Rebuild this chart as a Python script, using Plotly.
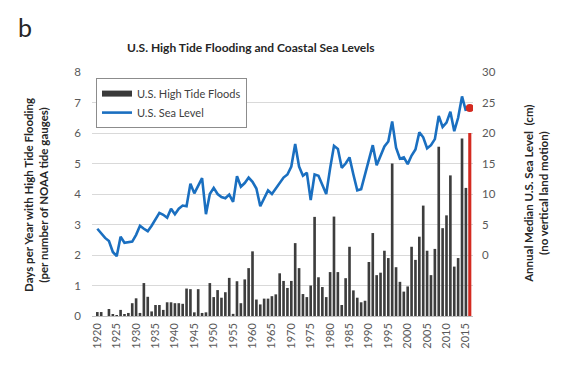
import plotly.graph_objects as go

years = list(range(1920, 2016))
floods = [0.13, 0.13, 0.0, 0.23, 0.05, 0.03, 0.2, 0.05, 0.1, 0.42,
          0.58, 0.1, 1.08, 0.63, 0.15, 0.36, 0.36, 0.2, 0.45, 0.45,
          0.42, 0.42, 0.4, 0.9, 0.88, 0.12, 0.88, 0.1, 0.12, 1.08,
          0.62, 0.85, 0.6, 0.78, 1.25, 0.07, 1.14, 0.42, 1.2, 1.57,
          2.12, 0.54, 0.38, 0.57, 0.57, 0.65, 0.71, 1.4, 1.15, 0.92,
          1.15, 2.39, 1.57, 0.72, 0.62, 1.0, 3.25, 1.27, 0.95, 0.62,
          1.44, 3.26, 1.44, 0.36, 1.24, 2.27, 0.84, 0.6, 0.45, 0.5,
          1.77, 2.72, 1.34, 1.42, 2.14, 1.9, 5.0, 1.6, 1.12, 0.8,
          0.97, 2.27, 1.84, 2.6, 3.62, 2.14, 1.34, 2.2, 5.55, 2.88,
          3.3, 4.61, 1.62, 1.9, 5.82, 4.2]
sea_level = [4.3, 3.5, 2.8, 2.3, 0.5, -0.2, 3.0, 2.0, 2.1, 2.2,
             3.3, 4.8, 4.3, 3.9, 4.8, 5.8, 6.9, 6.6, 6.1, 7.6,
             6.7, 7.6, 8.1, 8.0, 11.7, 10.1, 11.3, 12.6, 6.7, 10.0,
             11.0, 10.0, 9.5, 9.3, 9.9, 8.7, 12.9, 11.2, 11.8, 12.7,
             12.0, 10.9, 8.0, 9.3, 10.6, 10.0, 10.9, 11.7, 12.7, 13.2,
             14.5, 18.2, 14.5, 13.0, 13.5, 9.0, 13.2, 13.0, 11.5, 10.0,
             14.2, 17.9, 17.4, 14.3, 15.0, 16.0, 13.2, 10.6, 10.8, 13.2,
             15.6, 18.0, 14.7, 16.3, 17.8, 18.6, 21.9, 17.6, 15.8, 16.0,
             14.9, 16.3, 17.3, 20.1, 19.3, 17.5, 18.0, 19.0, 22.8, 21.0,
             21.7, 23.5, 20.3, 22.5, 26.0, 23.6]
latest_year = [2016]
latest_floods = [6.0]
latest_sea_level = [24.1]

x_ticks = list(range(1920, 2016, 5))
left_ticks = list(range(0, 9))
right_ticks = [0, 5, 10, 15, 20, 25, 30]

FONT = "Lato"
TICK_COLOR = "#595959"

fig = go.Figure()
fig.add_trace(go.Bar(x=years, y=floods, width=0.68, marker=dict(color="#3d3d3d", line=dict(width=0)),
                     showlegend=False, yaxis="y"))
fig.add_trace(go.Bar(x=latest_year, y=latest_floods, width=0.8, marker=dict(color="#d42a20", line=dict(width=0)),
                     showlegend=False, yaxis="y"))
# legend proxy for bars
fig.add_trace(go.Scatter(x=[None], y=[None], mode="lines", name="U.S. High Tide Floods",
                         line=dict(color="#3a3a3a", width=6)))
fig.add_trace(go.Scatter(x=years, y=sea_level, mode="lines", name="U.S. Sea Level",
                         line=dict(color="#1a6fc0", width=2.6), yaxis="y2"))
fig.add_trace(go.Scatter(x=latest_year, y=latest_sea_level, mode="markers", showlegend=False,
                         marker=dict(color="#d42a20", size=8), yaxis="y2"))

fig.update_layout(
    width=562, height=358,
    margin=dict(l=84, r=97, t=64, b=50),
    paper_bgcolor="white", plot_bgcolor="white",
    barmode="overlay",
    font=dict(family=FONT, color="#262626"),
    xaxis=dict(range=[1918.63, 2016.83], tickvals=x_ticks, tickangle=-90,
               tickfont=dict(size=11, color=TICK_COLOR), showgrid=False,
               zeroline=False, showline=False, ticks="", ticklabelstandoff=4),
    yaxis=dict(range=[0, 8], tickvals=left_ticks, tickfont=dict(size=11.5, color=TICK_COLOR),
               showgrid=True, gridcolor="#d9d9d9", gridwidth=1, zeroline=True,
               zerolinecolor="#bfbfbf", zerolinewidth=1, ticks="", ticklabelstandoff=10),
    yaxis2=dict(range=[-10, 30], tickvals=right_ticks, overlaying="y", side="right",
                tickfont=dict(size=11.5, color=TICK_COLOR), showgrid=False, zeroline=False,
                ticks="", ticklabelstandoff=8),
    legend=dict(x=0.0105, y=0.975, xanchor="left", yanchor="top",
                bgcolor="white", bordercolor="#8c8c8c", borderwidth=1,
                font=dict(size=11, color="#404040"), itemwidth=30),
    annotations=[
        dict(text="b", x=-0.176, y=1.255, xref="paper", yref="paper", showarrow=False,
             font=dict(size=25, color="#262626", family=FONT), xanchor="center", yanchor="top"),
        dict(text="<b>U.S. High Tide Flooding and Coastal Sea Levels</b>", x=0.417, y=1.102,
             xref="paper", yref="paper", showarrow=False,
             font=dict(size=12, color="#262626", family=FONT), xanchor="center", yanchor="middle"),
        dict(text="<b>Days per Year with High Tide Flooding<br>(per number of NOAA tide gauges)</b>",
             x=-0.147, y=0.496, xref="paper", yref="paper", showarrow=False, textangle=-90,
             font=dict(size=11.5, color="#262626", family=FONT), xanchor="center", yanchor="middle"),
        dict(text="<b>Annual Median U.S. Sea Level  (cm)<br>(no vertical land motion)</b>",
             x=1.165, y=0.50, xref="paper", yref="paper", showarrow=False, textangle=-90,
             font=dict(size=11.5, color="#262626", family=FONT), xanchor="center", yanchor="middle"),
    ],
)

fig.write_html("out.html")
